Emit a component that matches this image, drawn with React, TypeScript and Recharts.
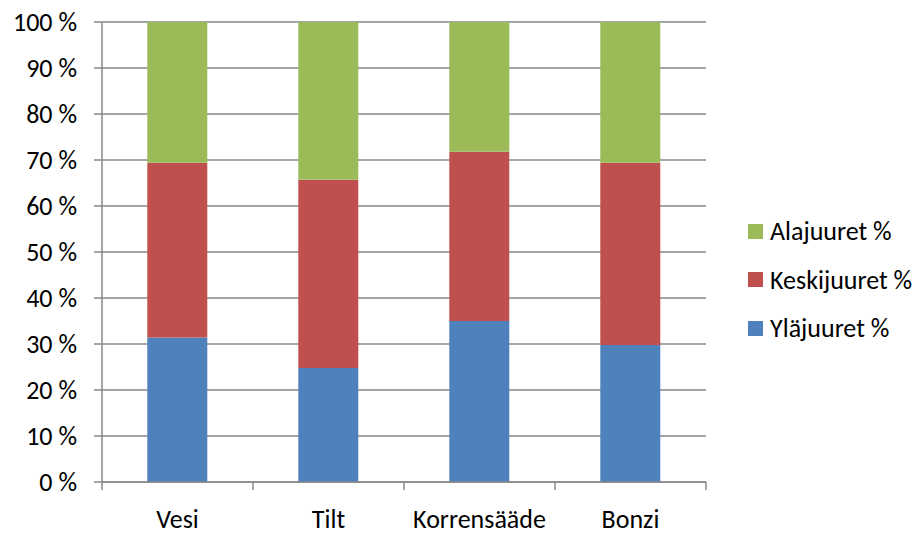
import { Bar, BarChart, CartesianGrid, XAxis, YAxis } from 'recharts'

const categories = ['Vesi', 'Tilt', 'Korrensääde', 'Bonzi']
const ylajuuret = [31.4, 24.8, 35.0, 29.8]
const keskijuuret = [38.0, 40.9, 36.8, 39.6]
const alajuuret = [30.6, 34.3, 28.2, 30.6]
const yTicks = [0, 10, 20, 30, 40, 50, 60, 70, 80, 90, 100]

const series = [
  { key: 'ylajuuret', name: 'Yläjuuret %', color: '#4F81BD' },
  { key: 'keskijuuret', name: 'Keskijuuret %', color: '#C0504D' },
  { key: 'alajuuret', name: 'Alajuuret %', color: '#9BBB59' },
]

const data = categories.map((name, i) => ({
  name,
  ylajuuret: ylajuuret[i],
  keskijuuret: keskijuuret[i],
  alajuuret: alajuuret[i],
}))

const W = 921
const H = 536
const margin = { top: 22, right: 215, bottom: 0, left: 12 }
const yWidth = 90
const font = 'Calibri, Carlito, "Open Sans", sans-serif'
const fontSize = 26
const gray = '#898989'

function CategoryTick(props: any) {
  const { x, y, payload, index } = props
  const band = (W - margin.left - margin.right - yWidth) / categories.length
  const off = payload?.offset || band / 2
  return (
    <g>
      <line x1={x - off} x2={x - off} y1={y - 8} y2={y} stroke={gray} strokeWidth={1.5} />
      {index === categories.length - 1 && (
        <line x1={x + off} x2={x + off} y1={y - 8} y2={y} stroke={gray} strokeWidth={1.5} />
      )}
      <text x={x} y={y} dy={38} textAnchor="middle" fill="#000" fontSize={fontSize} fontFamily={font}>
        {payload.value}
      </text>
    </g>
  )
}

export default function App() {
  return (
    <div style={{ position: 'absolute', left: 0, top: 0, width: W, height: H, background: '#fff' }}>
      <BarChart width={W} height={H} data={data} margin={margin} barCategoryGap="30%">
        <CartesianGrid vertical={false} stroke={gray} strokeWidth={1.5} />
        <XAxis
          dataKey="name"
          height={54}
          axisLine={{ stroke: gray, strokeWidth: 1.5 }}
          tickLine={false}
          tickSize={8}
          tickMargin={0}
          interval={0}
          tick={<CategoryTick />}
        />
        <YAxis
          width={yWidth}
          domain={[0, 100]}
          ticks={yTicks}
          interval={0}
          tickFormatter={(v: number) => `${v} %`}
          axisLine={{ stroke: gray, strokeWidth: 1.5 }}
          tickLine={{ stroke: gray, strokeWidth: 1.5 }}
          tickSize={8}
          tickMargin={17}
          tick={{ fill: '#000', fontSize, fontFamily: font }}
        />
        {series.map((s) => (
          <Bar key={s.key} dataKey={s.key} name={s.name} stackId="a" fill={s.color} isAnimationActive={false} />
        ))}
      </BarChart>
      <div style={{ position: 'absolute', left: 748, top: 207, fontFamily: font, fontSize, color: '#000' }}>
        {[...series].reverse().map((s) => (
          <div key={s.key} style={{ display: 'flex', alignItems: 'center', height: 48.5 }}>
            <span style={{ width: 15, height: 15, background: s.color, marginRight: 7 }} />
            <span>{s.name}</span>
          </div>
        ))}
      </div>
    </div>
  )
}
